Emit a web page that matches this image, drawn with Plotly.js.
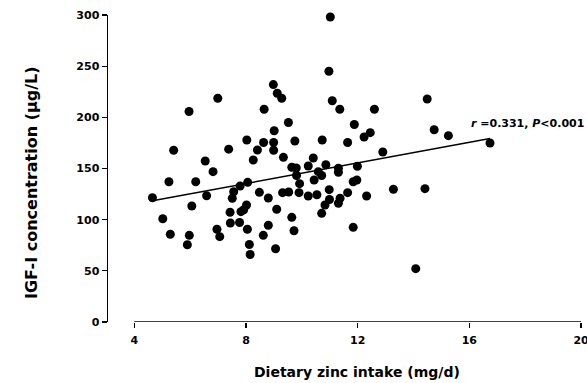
<!DOCTYPE html>
<html>
<head>
<meta charset="utf-8">
<script src="https://cdn.plot.ly/plotly-3.0.1.min.js"></script>
<style>html,body{margin:0;padding:0;background:#fff;}#chart{width:587px;height:383px;}</style>
</head>
<body>
<div id="chart"></div>
<script>
// Dietary zinc intake (mg/d)
const zincIntake = [11.02,10.97,8.98,9.12,9.28,6.99,5.96,8.65,11.09,11.36,
  9.52,11.88,9.01,5.41,7.38,8.03,8.63,8.99,8.99,9.75,
  10.73,11.64,6.54,8.26,9.34,10.41,8.41,6.82,9.64,9.80,
  10.23,9.81,9.92,10.59,10.71,10.44,10.86,11.31,11.31,11.99,
  11.84,11.97,5.24,6.20,4.65,6.59,7.56,7.79,8.06,7.51,
  8.48,8.80,9.31,9.53,9.90,10.23,10.54,10.98,10.99,10.83,
  10.71,11.37,11.31,11.64,6.06,5.02,8.02,7.92,7.82,7.43,
  9.10,9.64,7.44,7.77,8.80,8.05,9.72,5.29,5.97,6.96,
  7.06,8.62,5.90,8.12,9.06,8.15,11.84,14.49,12.60,12.23,
  12.45,14.74,15.25,12.90,12.32,13.28,14.41,14.08,16.74];
// IGF-I concentration (ug/L)
const igf1 = [298,245,232,223.5,218.6,218.6,205.7,207.9,216.2,207.9,
  195,193,186.9,167.8,168.9,177.9,175.4,175.4,167.8,176.9,
  177.9,175.4,157.3,158.3,160.9,160.3,168.1,146.9,151.2,150.5,
  152.4,143.2,135.2,146.9,143.2,138.8,153.7,150.2,146.3,152.2,
  137.1,138.8,137.1,137.1,121.4,123.4,127.3,132.9,136.5,120.9,
  126.7,121.2,126.4,127,126.4,123.1,124.4,129.3,119.7,114.3,
  106.2,120.9,116,126.4,113.4,100.9,114.3,109.7,107.8,107.2,
  110.2,102.3,96.7,97.2,94.5,90.6,89.2,85.7,84.7,90.6,
  83.4,84.7,75.5,75.7,71.6,66,92.5,217.9,207.9,180.8,
  185,187.9,182.1,166.1,123.1,129.7,130.3,52.1,174.9];
// Regression line end points
const fitX = [4.65, 16.74];
const fitY = [118.4, 179.4];
const xTicks = [4, 8, 12, 16, 20];
const yTicks = [0, 50, 100, 150, 200, 250, 300];

const FONT = "DejaVu Sans, Liberation Sans, Arial, sans-serif";

const traces = [
  {x: zincIntake, y: igf1, type: 'scatter', mode: 'markers',
   marker: {color: '#000', size: 9, line: {width: 0}}, cliponaxis: false, hoverinfo: 'skip'},
  {x: fitX, y: fitY, type: 'scatter', mode: 'lines',
   line: {color: '#000', width: 1.5}, hoverinfo: 'skip'}
];

const layout = {
  width: 587, height: 383,
  margin: {l: 108, r: 2, t: 15, b: 61},
  paper_bgcolor: '#fff', plot_bgcolor: '#fff',
  showlegend: false,
  font: {family: FONT, color: '#000', size: 11, weight: 'bold'},
  xaxis: {range: [3.058, 20.142], tickvals: xTicks, ticktext: xTicks.map(String),
    ticks: 'outside', ticklen: 5, tickwidth: 1.2, tickcolor: '#000',
    ticklabeloverflow: 'allow', ticklabelstandoff: 3,
    showline: false, showgrid: false, zeroline: false,
    tickfont: {family: FONT, size: 11, weight: 'bold', color: '#000'}},
  yaxis: {range: [0, 300], tickvals: yTicks, ticktext: yTicks.map(String),
    ticks: 'outside', ticklen: 5, tickwidth: 1.2, tickcolor: '#000',
    showline: true, linecolor: '#000', linewidth: 1.5,
    showgrid: false, zeroline: false,
    tickfont: {family: FONT, size: 11, weight: 'bold', color: '#000'}},
  shapes: [
    {type: 'line', xref: 'x', yref: 'y', x0: 4, x1: 20, y0: 0, y1: 0,
     line: {color: '#000', width: 1.5}}
  ],
  annotations: [
    {xref: 'x', yref: 'y', x: 18.1, y: 193.5, xanchor: 'center', yanchor: 'middle',
     text: '<i>r</i> =0.331, <i>P</i>&lt;0.001', showarrow: false,
     font: {family: FONT, size: 11, weight: 'bold', color: '#000'}},
    {xref: 'paper', yref: 'paper', x: 0.522, y: -0.1629, xanchor: 'center', yanchor: 'middle',
     text: 'Dietary zinc intake (mg/d)', showarrow: false,
     font: {family: FONT, size: 14, weight: 'bold', color: '#000'}},
    {xref: 'paper', yref: 'paper', x: -0.1593, y: 0.4528, xanchor: 'center', yanchor: 'middle',
     textangle: -90, text: 'IGF-I concentration (μg/L)', showarrow: false,
     font: {family: FONT, size: 16, weight: 'bold', color: '#000'}}
  ]
};

Plotly.newPlot('chart', traces, layout, {staticPlot: true, displayModeBar: false});
</script>
</body>
</html>
